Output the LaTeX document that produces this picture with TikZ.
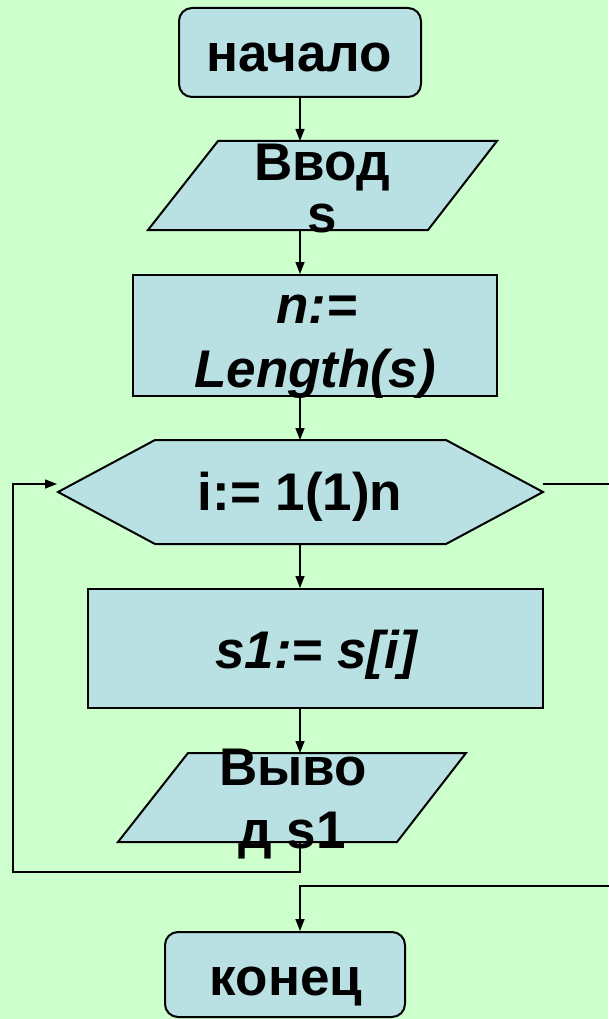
\documentclass[tikz,border=0pt]{standalone}
\usepackage{fontspec}
\setmainfont{Liberation Sans}
\usetikzlibrary{arrows.meta,calc}
\definecolor{bg}{RGB}{204,255,204}
\definecolor{fillc}{RGB}{185,224,227}
\begin{document}
\begin{tikzpicture}[x=1pt,y=-1pt,
  blk/.style={draw=black, line width=2pt, fill=fillc, line join=miter},
  box/.style={blk, rectangle, inner sep=0pt},
  term/.style={box, rounded corners=13pt},
  lbl/.style={anchor=base, inner sep=0pt, font=\fontsize{53}{60}\selectfont\bfseries},
  ilbl/.style={anchor=base, inner sep=0pt, font=\fontsize{53}{60}\selectfont\bfseries\itshape},
  conn/.style={line width=1.4pt},
  arr/.style={conn, -{Triangle[length=12pt,width=9pt]}}]
\fill[bg] (0,0) rectangle (608,1019);
\useasboundingbox (0,0) rectangle (608,1019);

% shapes
\node[term, minimum width=242pt, minimum height=89pt] (start) at (300,52.5) {};
\draw[blk] (218,141) -- (497,141) -- (428,230) -- (148,230) -- cycle;
\coordinate (inT) at (300,141);
\coordinate (inB) at (300,230);
\node[box, minimum width=364pt, minimum height=121pt] (calc) at (315,335.5) {};
\draw[blk] (58,492) -- (155,440) -- (446,440) -- (543,492) -- (446,544) -- (155,544) -- cycle;
\coordinate (hexT) at (300,440);
\coordinate (hexB) at (300,544);
\coordinate (hexLin) at (57,484);
\coordinate (hexRout) at (543,484);
\node[box, minimum width=455pt, minimum height=119pt] (body) at (315.5,648.5) {};
\draw[blk] (188,753) -- (466,753) -- (397,842) -- (118,842) -- cycle;
\coordinate (outT) at (300,753);
\coordinate (outB) at (300,842);
\node[term, minimum width=240pt, minimum height=85pt] (stop) at (285,974.5) {};

% helper coordinates
\coordinate (loopBL) at (13,872);
\coordinate (farR) at (616,484);
\coordinate (exitC) at (300,886);

% connectors
\draw[arr] (start.south) -- (inT);
\draw[arr] (inB) -- (inB |- calc.north);
\draw[arr] (hexT |- calc.south) -- (hexT);
\draw[arr] (hexB) -- (hexB |- body.north);
\draw[arr] (hexB |- body.south) -- (outT);
\draw[arr] (outB) |- (loopBL) |- (hexLin);
\draw[arr] (hexRout) -- (farR) |- (exitC) -- (exitC |- stop.north);

% texts
\node[lbl] (tStart) at (299,72) {начало};
\node[lbl] (tIn1) at (322,180) {Ввод};
\node[lbl] (tIn2) at (322,232) {s};
\node[ilbl] (tCalc1) at (317,323) {n:=};
\node[ilbl] (tCalc2) at (315,387) {Length(s)};
\node[lbl] (tLoop) at (300,510) {i:= 1(1)n};
\node[ilbl] (tBody) at (316,668) {s1:= s[i]};
\node[lbl] (tOut1) at (293,785) {Выво};
\node[lbl] (tOut2) at (292,848) {д s1};
\node[lbl] (tStop) at (286,995) {конец};
\end{tikzpicture}
\end{document}
